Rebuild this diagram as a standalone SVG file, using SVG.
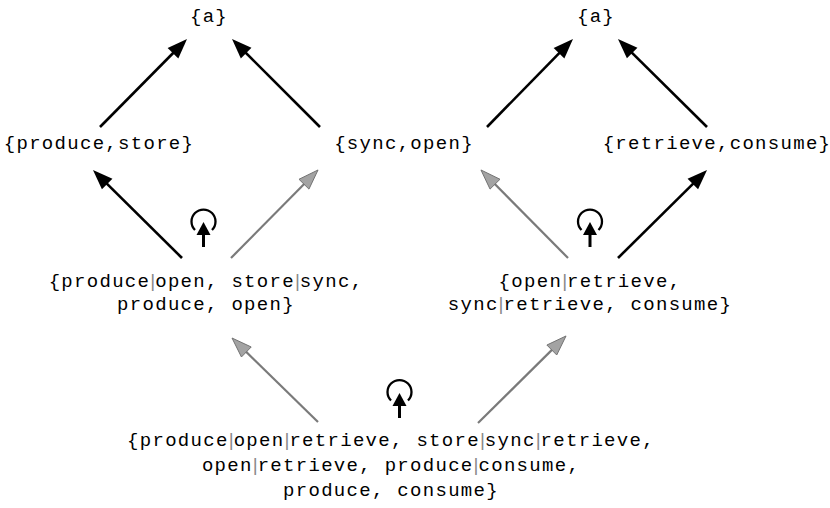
<svg xmlns="http://www.w3.org/2000/svg" width="830" height="508" viewBox="0 0 830 508">
<style>
  text { font-family: "Liberation Mono", "DejaVu Sans Mono", monospace; font-size: 19px; letter-spacing: 1.3px; fill: #000; text-anchor: middle; }
  .bar { font-family: "Liberation Sans", Arial, sans-serif; letter-spacing: 0; fill: #8a8a8a; }
  .blk { stroke: #000; stroke-width: 2.6; fill: none; marker-end: url(#hb); }
  .gry { stroke: #7a7a7a; stroke-width: 2.2; fill: none; marker-end: url(#hg); }
  .ring { fill: none; stroke: #000; stroke-width: 2.3; }
  .shaft { stroke: #000; stroke-width: 3; }
</style>
<defs>
  <marker id="hb" markerUnits="userSpaceOnUse" markerWidth="22" markerHeight="16" refX="8" refY="7.5" orient="auto" overflow="visible">
    <path d="M0,0 L20,7.5 L0,15 Z" fill="#000"/>
  </marker>
  <marker id="hg" markerUnits="userSpaceOnUse" markerWidth="22" markerHeight="16" refX="8" refY="7.5" orient="auto" overflow="visible">
    <path d="M0,0.5 L20,7.5 L0,14.5 Z" fill="#a3a3a3" stroke="#6e6e6e" stroke-width="0.9"/>
  </marker>
</defs>

<g id="connectors">
  <line class="blk" x1="100" y1="127" x2="178.6" y2="47.5"/>
  <line class="blk" x1="320" y1="127" x2="240.5" y2="47.5"/>
  <line class="blk" x1="487" y1="127" x2="564.6" y2="47.6"/>
  <line class="blk" x1="707" y1="127" x2="626.5" y2="47.4"/>
  <line class="blk" x1="182" y1="258" x2="101.5" y2="178.4"/>
  <line class="gry" x1="231" y1="258" x2="309.6" y2="178.5"/>
  <line class="gry" x1="568" y1="258" x2="489.4" y2="178.5"/>
  <line class="blk" x1="618" y1="258" x2="698.5" y2="178.4"/>
  <line class="gry" x1="318" y1="422" x2="240.6" y2="346.4"/>
  <line class="gry" x1="478" y1="423" x2="557.5" y2="344.4"/>
</g>

<g id="icons">
  <g id="icon-left">
    <path class="ring" d="M195,230 A12,12 0 1 1 212,230"/>
    <line class="shaft" x1="203.5" y1="247" x2="203.5" y2="233"/>
    <path d="M196.5,235 L203.5,222 L210.5,235 Z" fill="#000"/>
  </g>
  <g id="icon-right">
    <path class="ring" d="M581.5,230 A12,12 0 1 1 598.5,230"/>
    <line class="shaft" x1="590" y1="247" x2="590" y2="233"/>
    <path d="M583,235 L590,222 L597,235 Z" fill="#000"/>
  </g>
  <g id="icon-bottom">
    <path class="ring" d="M391,400.5 A12,12 0 1 1 408,400.5"/>
    <line class="shaft" x1="399.5" y1="418" x2="399.5" y2="404"/>
    <path d="M392.5,406 L399.5,393 L406.5,406 Z" fill="#000"/>
  </g>
</g>

<g id="n-top-left"><text x="209" y="22">{a}</text></g>
<g id="n-top-right"><text x="596" y="22">{a}</text></g>

<g id="n-produce-store"><text x="99" y="149">{produce,store}</text></g>
<g id="n-sync-open"><text x="404" y="149">{sync,open}</text></g>
<g id="n-retrieve-consume"><text x="717" y="149">{retrieve,consume}</text></g>

<g id="n-mid-left">
  <text x="206" y="287">{produce<tspan class="bar">|</tspan>open, store<tspan class="bar">|</tspan>sync,</text>
  <text x="206" y="310">produce, open}</text>
</g>
<g id="n-mid-right">
  <text x="590" y="287">{open<tspan class="bar">|</tspan>retrieve,</text>
  <text x="590" y="310">sync<tspan class="bar">|</tspan>retrieve, consume}</text>
</g>

<g id="n-bottom">
  <text x="391" y="446">{produce<tspan class="bar">|</tspan>open<tspan class="bar">|</tspan>retrieve, store<tspan class="bar">|</tspan>sync<tspan class="bar">|</tspan>retrieve,</text>
  <text x="391" y="471">open<tspan class="bar">|</tspan>retrieve, produce<tspan class="bar">|</tspan>consume,</text>
  <text x="391" y="496">produce, consume}</text>
</g>
</svg>
